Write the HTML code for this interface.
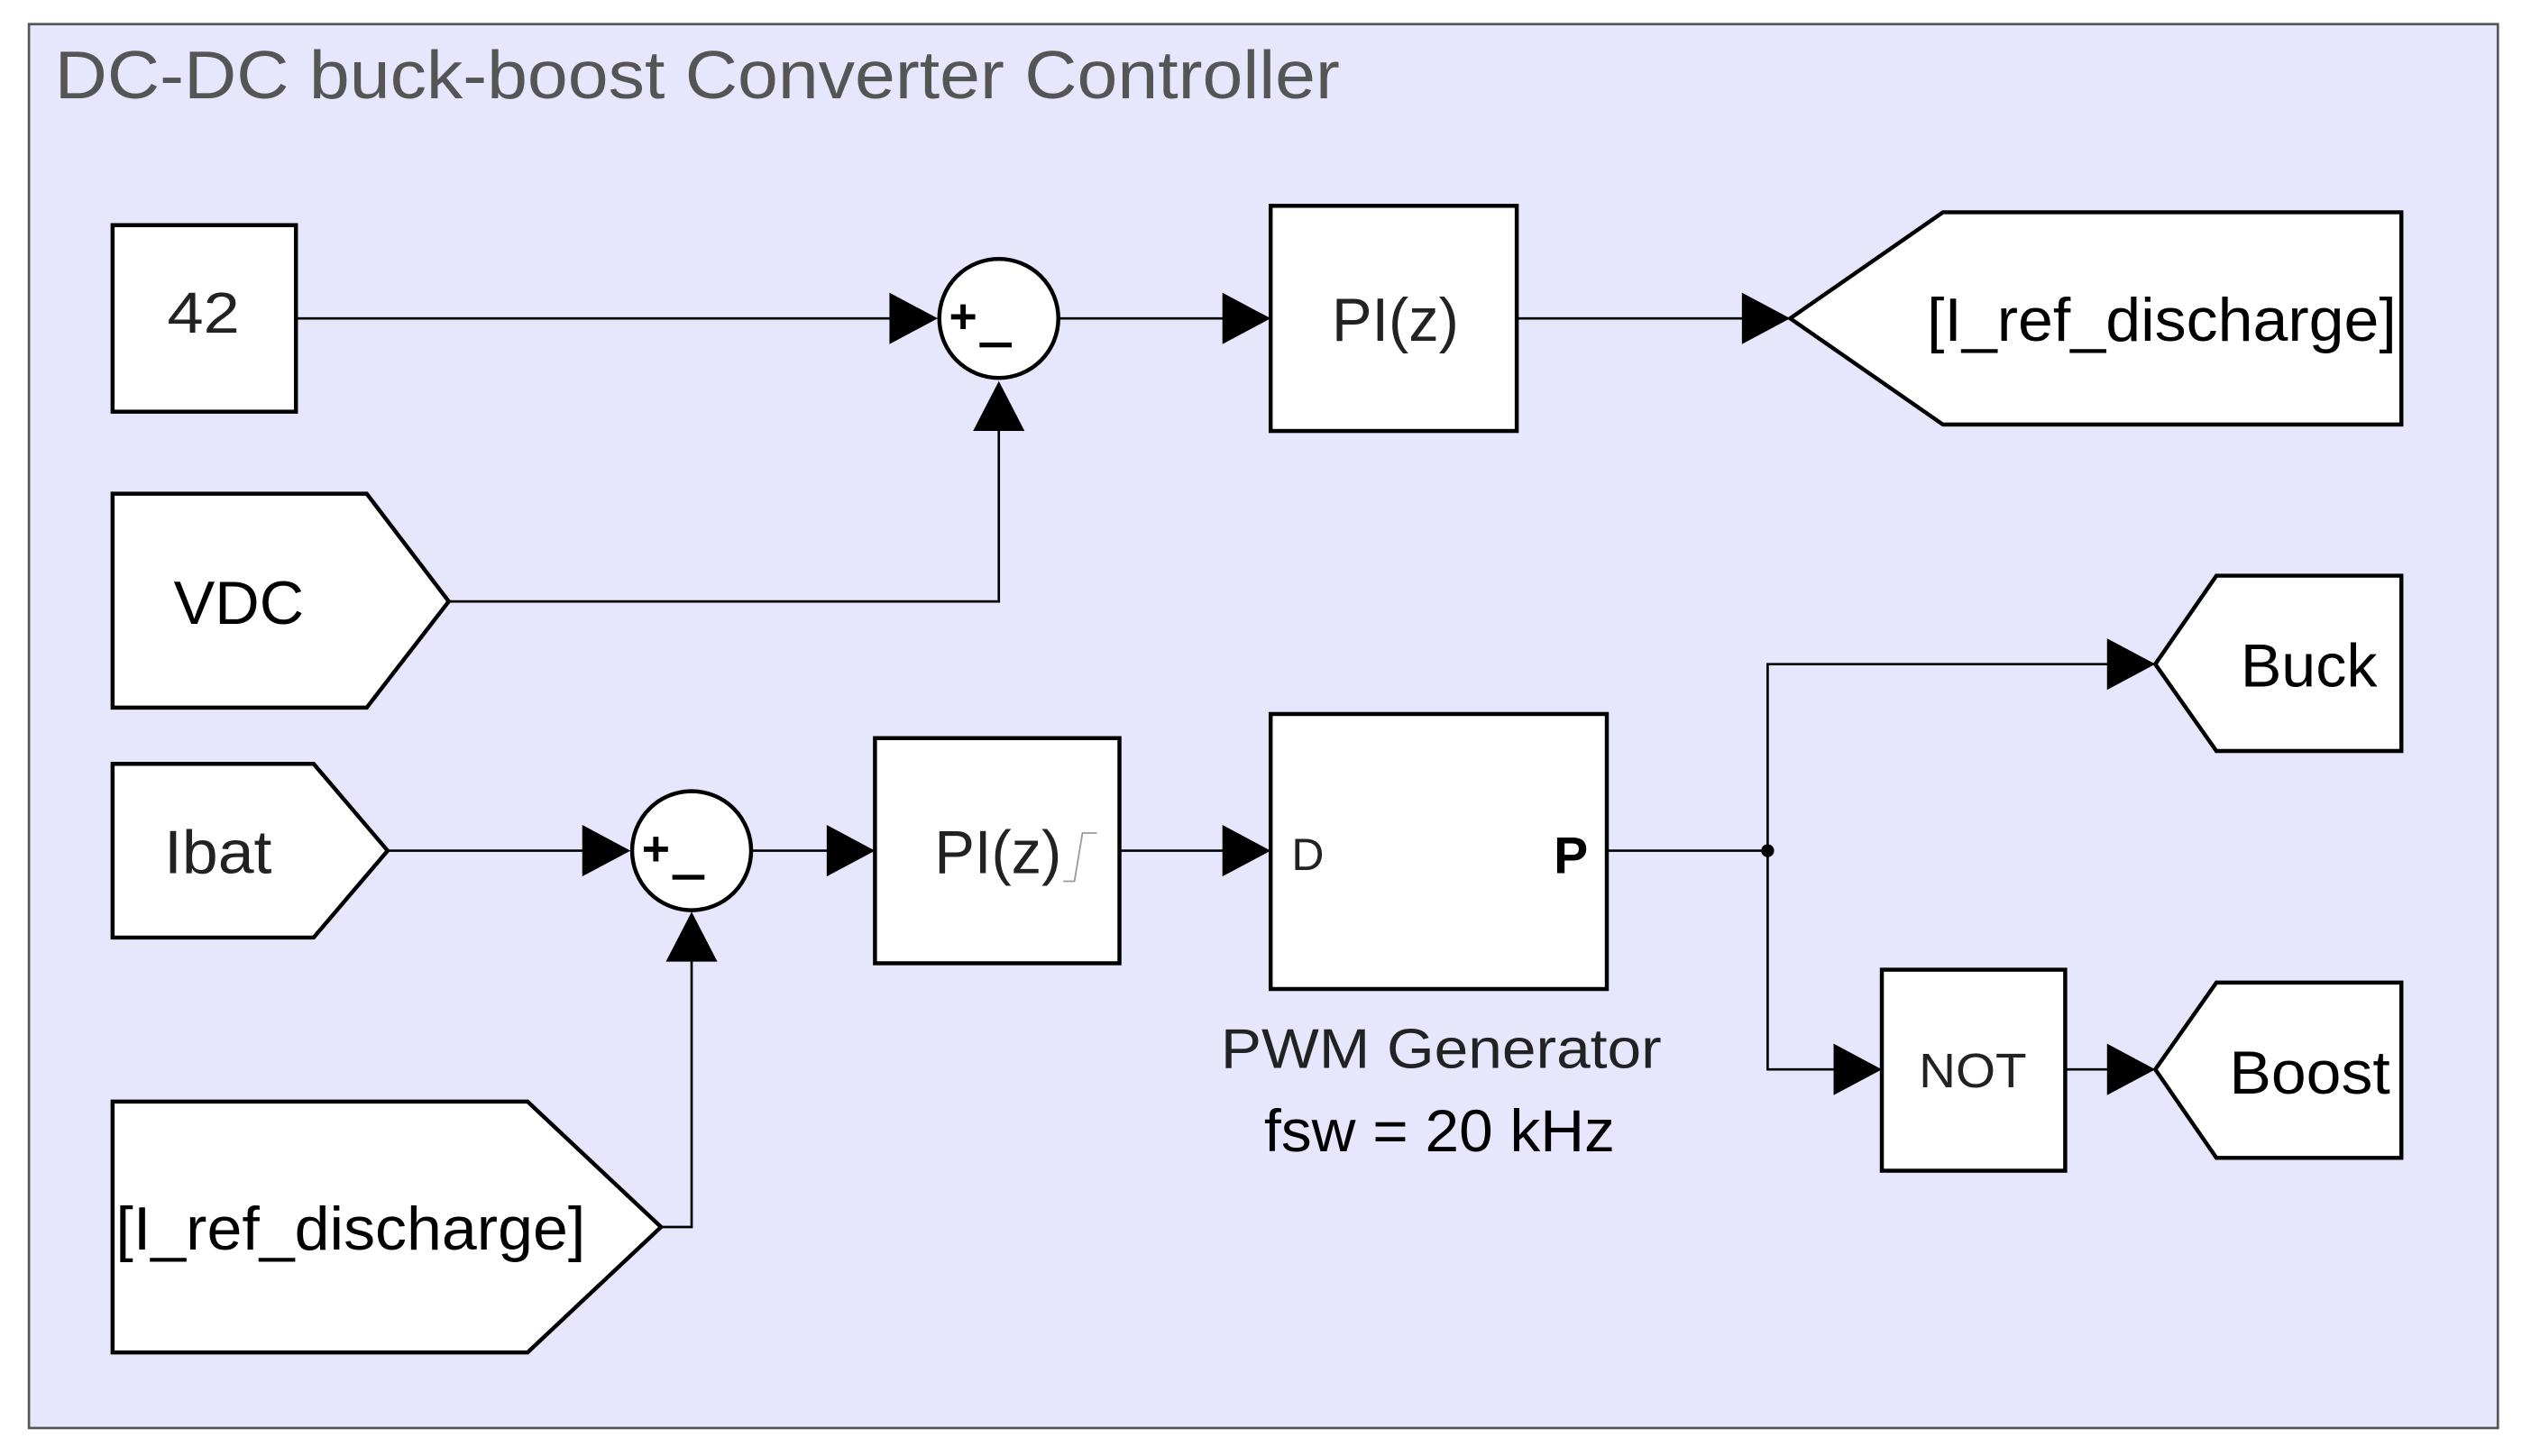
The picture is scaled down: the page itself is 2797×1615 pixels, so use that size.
<!DOCTYPE html>
<html><head><meta charset="utf-8"><style>
html,body{margin:0;padding:0;background:#fff;}
svg{display:block;}
text{font-family:"Liberation Sans",sans-serif;}
</style></head><body>
<svg width="2797" height="1615" viewBox="0 0 1568 905.4" preserveAspectRatio="none" xmlns="http://www.w3.org/2000/svg">
<rect x="0" y="0" width="1568" height="906" fill="#fff"/>
<rect x="18" y="15" width="1535" height="873" fill="#e6e6fc" stroke="#555" stroke-width="1.5"/>
<text x="34" y="61" font-size="42" fill="#555" textLength="799" lengthAdjust="spacingAndGlyphs">DC-DC buck-boost Converter Controller</text>
<g stroke="#000" stroke-width="1.5" fill="none">
<polyline points="184,198 560,198"/>
<polyline points="658,198 765,198"/>
<polyline points="943,198 1088,198"/>
<polyline points="279,374 621,374 621,268"/>
<polyline points="241,529 368,529"/>
<polyline points="467,529 518,529"/>
<polyline points="696,529 765,529"/>
<polyline points="999,529 1099,529"/>
<polyline points="1340,413 1099,413 1099,665 1145,665"/>
<polyline points="1284,665 1315,665"/>
<polyline points="411,763 430,763 430,598"/>
</g>
<g fill="#000">
<polygon points="583,198 553,182 553,214"/>
<polygon points="790,198 760,182 760,214"/>
<polygon points="1113,198 1083,182 1083,214"/>
<polygon points="621,237 605,268 637,268"/>
<polygon points="392,529 362,513 362,545"/>
<polygon points="544,529 514,513 514,545"/>
<polygon points="790,529 760,513 760,545"/>
<polygon points="1340,413 1310,397 1310,429"/>
<polygon points="1170,665 1140,649 1140,681"/>
<polygon points="1340,665 1310,649 1310,681"/>
<polygon points="430,567 414,598 446,598"/>
<circle cx="1099" cy="529" r="4"/>
</g>
<g fill="#fff" stroke="#000" stroke-width="2.5">
<rect x="70" y="140" width="114" height="116"/>
<circle cx="621" cy="198" r="37"/>
<rect x="790" y="128" width="153" height="140"/>
<polygon points="1113,198 1208,132 1493,132 1493,264 1208,264"/>
<polygon points="70,307 228,307 279,374 228,440 70,440"/>
<polygon points="70,475 195,475 241,529 195,583 70,583"/>
<circle cx="430" cy="529" r="37"/>
<rect x="544" y="459" width="152" height="140"/>
<rect x="790" y="444" width="209" height="171"/>
<polygon points="1340,413 1378,358 1493,358 1493,467 1378,467"/>
<rect x="1170" y="603" width="114" height="125"/>
<polygon points="1340,665 1378,611 1493,611 1493,720 1378,720"/>
<polygon points="70,685 328,685 411,763 328,841 70,841"/>
</g>
<g fill="#000">
<text x="104" y="207" font-size="36" fill="#222" textLength="45" lengthAdjust="spacingAndGlyphs">42</text>
<text x="590" y="207" font-size="30" font-weight="bold">+</text>
<rect x="609" y="213" width="20" height="3"/>
<text x="399" y="538" font-size="30" font-weight="bold">+</text>
<rect x="418" y="544" width="20" height="3"/>
<text x="828" y="212" font-size="38" fill="#222" textLength="79" lengthAdjust="spacingAndGlyphs">PI(z)</text>
<text x="1198" y="212" font-size="38" textLength="292" lengthAdjust="spacingAndGlyphs">[I_ref_discharge]</text>
<text x="108" y="388" font-size="38" textLength="81" lengthAdjust="spacingAndGlyphs">VDC</text>
<text x="102" y="543" font-size="38" fill="#222" textLength="67" lengthAdjust="spacingAndGlyphs">Ibat</text>
<text x="581" y="543" font-size="38" fill="#222" textLength="79" lengthAdjust="spacingAndGlyphs">PI(z)</text>
<polyline points="661,548 668,548 673,518 682,518" stroke="#999" stroke-width="1" fill="none"/>
<text x="803" y="541" font-size="28" fill="#222">D</text>
<text x="966" y="543" font-size="32" font-weight="bold">P</text>
<text x="759" y="664" font-size="35" fill="#222" textLength="274" lengthAdjust="spacingAndGlyphs">PWM Generator</text>
<text x="786" y="716" font-size="37" textLength="218" lengthAdjust="spacingAndGlyphs">fsw = 20 kHz</text>
<text x="1193" y="676" font-size="30" fill="#222" textLength="67" lengthAdjust="spacingAndGlyphs">NOT</text>
<text x="1393" y="427" font-size="38" textLength="85" lengthAdjust="spacingAndGlyphs">Buck</text>
<text x="1386" y="680" font-size="38" textLength="100" lengthAdjust="spacingAndGlyphs">Boost</text>
<text x="72" y="777" font-size="38" textLength="292" lengthAdjust="spacingAndGlyphs">[I_ref_discharge]</text>
</g>
</svg>
</body></html>
